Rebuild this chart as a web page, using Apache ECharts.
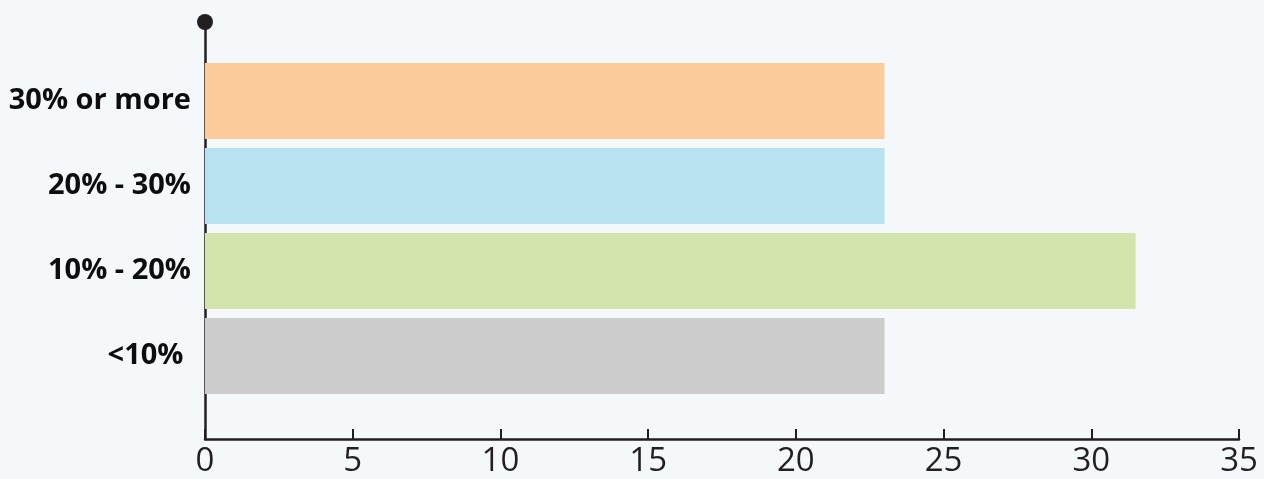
<!DOCTYPE html>
<html>
<head>
<meta charset="utf-8">
<script src="https://cdn.jsdelivr.net/npm/echarts@6/dist/echarts.min.js"></script>
<style>
  html, body { margin: 0; padding: 0; background: #f4f8fb; }
  #chart { width: 1264px; height: 479px; }
</style>
</head>
<body>
<div id="chart"></div>
<script>
// Share of respondents by range, bottom-to-top order on the category axis
const categories = ['<10% ', '10% - 20%', '20% - 30%', '30% or more'];
const values = [23, 31.5, 23, 23];
const barColors = ['#cccccc', '#d3e4ad', '#b8e2f0', '#fbcb9c'];
const xTicks = { min: 0, max: 35, interval: 5 };

const axisColor = '#231f20';
const chart = echarts.init(document.getElementById('chart'));

chart.setOption({
  backgroundColor: '#f4f8fb',
  animation: false,
  grid: [
    // frame grid: visible x axis and the tall y axis line with a dot on top
    { left: 205, right: 25, top: 22, bottom: 40 },
    // bar grid: category band area
    { left: 205, right: 25, top: 58.5, bottom: 80.5 }
  ],
  xAxis: [
    {
      gridIndex: 0, type: 'value',
      min: xTicks.min, max: xTicks.max, interval: xTicks.interval,
      axisLine: { show: true, lineStyle: { color: axisColor, width: 2.5 } },
      axisTick: { show: true, inside: true, length: 10, lineStyle: { color: axisColor, width: 2 } },
      axisLabel: { color: axisColor, fontFamily: 'Open Sans', fontSize: 33, margin: 6 },
      splitLine: { show: false }
    },
    {
      gridIndex: 1, type: 'value',
      min: xTicks.min, max: xTicks.max, interval: xTicks.interval,
      show: false, splitLine: { show: false }
    }
  ],
  yAxis: [
    {
      gridIndex: 0, type: 'value', min: 0, max: 1,
      axisLine: {
        show: true, symbol: ['none', 'circle'], symbolSize: [16, 16],
        lineStyle: { color: axisColor, width: 2.5 }
      },
      axisTick: { show: false }, axisLabel: { show: false }, splitLine: { show: false }
    },
    {
      gridIndex: 1, type: 'category', data: categories,
      axisLine: { show: false }, axisTick: { show: false },
      axisLabel: {
        color: '#0d0d0d', fontFamily: 'Open Sans', fontWeight: 'bold',
        fontSize: 29, margin: 14, padding: [4, 0, 0, 0]
      }
    }
  ],
  series: [{
    type: 'bar',
    xAxisIndex: 1, yAxisIndex: 1,
    barCategoryGap: '10.6%',
    data: values.map((v, i) => ({ value: v, itemStyle: { color: barColors[i] } }))
  }]
});
</script>
</body>
</html>
